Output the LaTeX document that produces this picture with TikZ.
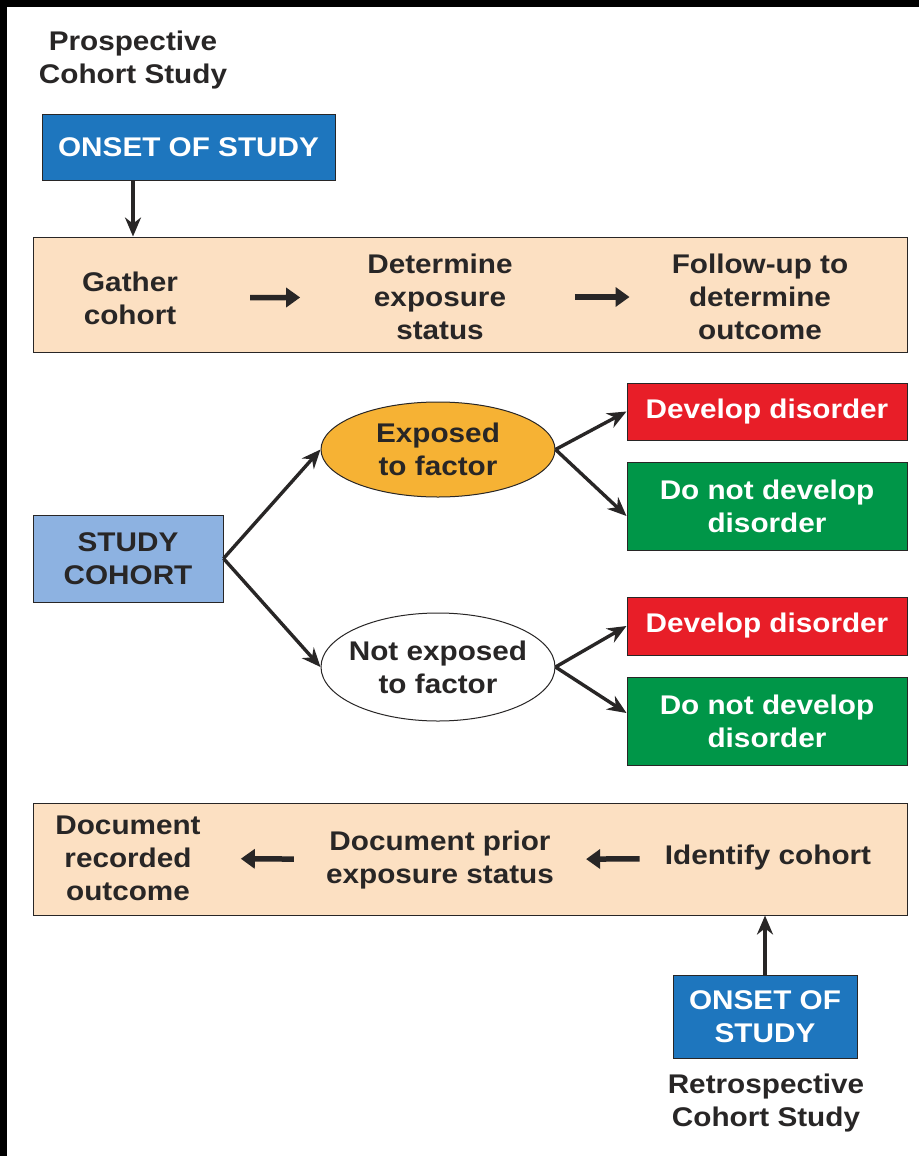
\documentclass[tikz,border=0pt]{standalone}
\usepackage{fontspec}
\setmainfont{Liberation Sans}[FakeStretch=1.1]
\usetikzlibrary{shapes.geometric,arrows.meta,calc}
\definecolor{inkgray}{RGB}{40,38,38}
\definecolor{tanfill}{RGB}{252,224,194}
\definecolor{onsetblue}{RGB}{30,118,190}
\definecolor{cohortblue}{RGB}{141,178,225}
\definecolor{exporange}{RGB}{246,178,52}
\definecolor{devred}{RGB}{232,30,40}
\definecolor{nodevgreen}{RGB}{0,150,72}

\begin{document}
\begin{tikzpicture}[x=1pt,y=-1pt]
\tikzset{txt/.style = {font=\fontsize{27}{33}\selectfont\bfseries, text=inkgray, align=center, inner sep=0pt},
  boxed/.style = {txt, draw=inkgray, line width=1pt, rectangle},
  band/.style = {draw=inkgray, line width=1pt, fill=tanfill},
  onset/.style = {boxed, fill=onsetblue, text=white},
  oval/.style = {txt, ellipse, draw=inkgray, line width=1pt, minimum width=234pt, inner xsep=-12pt},
  outbox/.style = {boxed, fill=#1, text=white, minimum width=280pt},
  branch/.style = {-{Stealth[length=19pt,width=16pt]}, line width=3.4pt, draw=inkgray},
  fat/.style = {-{Triangle[length=14pt,width=19pt]}, line width=5.5pt, draw=inkgray}}
% frame
\useasboundingbox (0,0) rectangle (919,1156);
\fill[black] (0,0) rectangle (919,1156);
\fill[white] (7,7) rectangle (919,1156);

% prospective
\node[txt] (ptitle) at (133,60) {Prospective\\Cohort Study};
\node[onset, minimum width=293pt, minimum height=66pt] (onset1) at (188.5,147) {ONSET OF STUDY};
\node[band, minimum width=874pt, minimum height=115pt] (prosp) at (470,294.5) {};
\node[txt] (gather) at (130,298) {Gather\\cohort};
\node[txt] (determine) at (440,297) {Determine\\exposure\\status};
\node[txt] (follow) at (760,297) {Follow-up to\\determine\\outcome};
\draw[branch] (onset1.south -| ptitle) -- (ptitle |- prosp.north);
\draw[fat, shorten <=72pt, shorten >=67pt] (gather) -- (determine);
\draw[fat, shorten <=62pt, shorten >=42pt] (determine) -- (follow);

% cohort tree
\node[boxed, fill=cohortblue, minimum width=190pt, minimum height=87pt] (cohort) at (128,558.5) {STUDY\\COHORT};
\node[oval, fill=exporange, minimum height=95pt] (exp) at (438,449.5) {Exposed\\to factor};
\node[oval, fill=white, minimum height=108pt] (nexp) at (438,667) {Not exposed\\to factor};
\node[outbox=devred, minimum height=57pt] (dev1) at (767,411.5) {Develop disorder};
\node[outbox=nodevgreen, minimum height=88pt] (nodev1) at (767,506) {Do not develop\\disorder};
\node[outbox=devred, minimum height=58pt] (dev2) at (767,626) {Develop disorder};
\node[outbox=nodevgreen, minimum height=88pt] (nodev2) at (767,721) {Do not develop\\disorder};
\draw[branch] (cohort.east) -- (exp.west);
\draw[branch] (cohort.east) -- (nexp.west);
\draw[branch] (exp.east) -- (dev1.west);
\draw[branch] (exp.east) -- ([yshift=-10pt]nodev1.west);
\draw[branch] (nexp.east) -- (dev2.west);
\draw[branch] (nexp.east) -- ([yshift=8pt]nodev2.west);

% retrospective
\node[band, minimum width=874pt, minimum height=112pt] (retro) at (470,859) {};
\node[txt] (outcome) at (128,858) {Document\\recorded\\outcome};
\node[txt] (prior) at (440,860) {Document prior\\exposure status};
\node[txt] (identify) at (768,858) {Identify cohort};
\draw[fat, shorten <=32pt, shorten >=40pt] (prior) -- (outcome);
\draw[fat, shorten <=25pt, shorten >=32pt] (identify) -- (prior);
\node[onset, minimum width=184pt, minimum height=83pt] (onset2) at (765,1016.5) {ONSET OF\\STUDY};
\node[txt] (rtitle) at (766,1103) {Retrospective\\Cohort Study};
\draw[branch] (onset2.north) -- (onset2.north |- retro.south);
\end{tikzpicture}
\end{document}
